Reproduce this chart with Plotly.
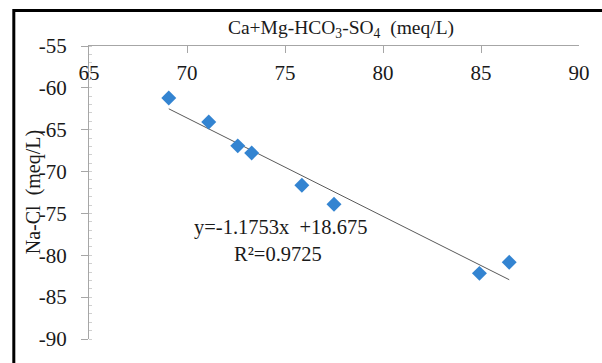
import plotly.graph_objects as go

# Data
ca_mg_hco3_so4 = [69.07, 71.11, 72.59, 73.30, 75.86, 77.50, 84.92, 86.44]
na_cl = [-61.20, -64.07, -66.93, -67.77, -71.64, -73.90, -82.16, -80.82]

slope = -1.1753
intercept = 18.675
r_squared = 0.9725

x_ticks = [65, 70, 75, 80, 85, 90]
y_ticks = [-55, -60, -65, -70, -75, -80, -85, -90]

FONT = "Liberation Serif, Times New Roman, serif"
AXIS_COLOR = "#a6a6a6"
TXT = "#1a1a1a"

fig = go.Figure()

# linear trend line over the data range
x_min, x_max = min(ca_mg_hco3_so4), max(ca_mg_hco3_so4)
fig.add_trace(go.Scatter(
    x=[x_min, x_max],
    y=[slope * x_min + intercept, slope * x_max + intercept],
    mode="lines",
    line=dict(color="#595959", width=1),
    hoverinfo="skip",
    showlegend=False,
))

fig.add_trace(go.Scatter(
    x=ca_mg_hco3_so4,
    y=na_cl,
    mode="markers",
    marker=dict(symbol="diamond", size=11.5, color="#3384d1", line=dict(width=0)),
    showlegend=False,
))

fig.update_layout(
    width=602,
    height=363,
    margin=dict(l=89, r=21, t=46, b=12),
    paper_bgcolor="white",
    plot_bgcolor="white",
    font=dict(family=FONT, size=21, color=TXT),
    title=dict(
        text="Ca+Mg-HCO<sub>3</sub>-SO<sub>4</sub>  (meq/L)",
        x=341 / 602,
        xref="container",
        xanchor="center",
        y=1 - 27 / 363,
        yref="container",
        yanchor="middle",
        font=dict(family=FONT, size=19.5, color=TXT),
    ),
    xaxis=dict(
        range=[65, 90],
        side="top",
        tickvals=x_ticks,
        ticktext=[str(v) for v in x_ticks],
        ticks="inside",
        ticklen=7,
        tickcolor=AXIS_COLOR,
        ticklabelposition="inside",
        ticklabeloverflow="allow",
        ticklabelstandoff=14,
        showline=True,
        linecolor=AXIS_COLOR,
        linewidth=1,
        showgrid=False,
        zeroline=False,
        tickfont=dict(family=FONT, size=21, color=TXT),
    ),
    yaxis=dict(
        range=[-90, -55],
        tickvals=y_ticks,
        ticktext=[str(v) for v in y_ticks],
        ticks="outside",
        ticklen=7,
        tickcolor=AXIS_COLOR,
        ticklabeloverflow="allow",
        ticklabelstandoff=10,
        showline=True,
        linecolor=AXIS_COLOR,
        linewidth=1,
        showgrid=False,
        zeroline=False,
        minor=dict(dtick=1, ticks="inside", ticklen=3, tickcolor="#d0d0d0"),
        tickfont=dict(family=FONT, size=21, color=TXT),
    ),
    shapes=[dict(
        type="rect",
        xref="paper", yref="paper",
        x0=(13.5 - 89) / 492, x1=(620 - 89) / 492,
        y0=(351 - 380) / 305, y1=1 + (46 - 9) / 305,
        line=dict(color="black", width=3),
        fillcolor="rgba(0,0,0,0)",
        layer="above",
    )],
    annotations=[
        dict(
            text="Na-Cl  (meq/L)",
            textangle=-90,
            xref="paper", yref="paper",
            x=(33 - 89) / 492, y=(351 - 198) / 305,
            xanchor="center", yanchor="middle",
            showarrow=False,
            font=dict(family=FONT, size=20, color=TXT),
        ),
        dict(
            text=f"y={slope}x  +{intercept}",
            x=74.76, y=-76.69,
            xanchor="center", yanchor="middle",
            showarrow=False,
            font=dict(family=FONT, size=20.5, color=TXT),
        ),
        dict(
            text=f"R²={r_squared}",
            x=74.65, y=-79.79,
            xanchor="center", yanchor="middle",
            showarrow=False,
            font=dict(family=FONT, size=20.5, color=TXT),
        ),
    ],
)

fig.write_html("out.html")
